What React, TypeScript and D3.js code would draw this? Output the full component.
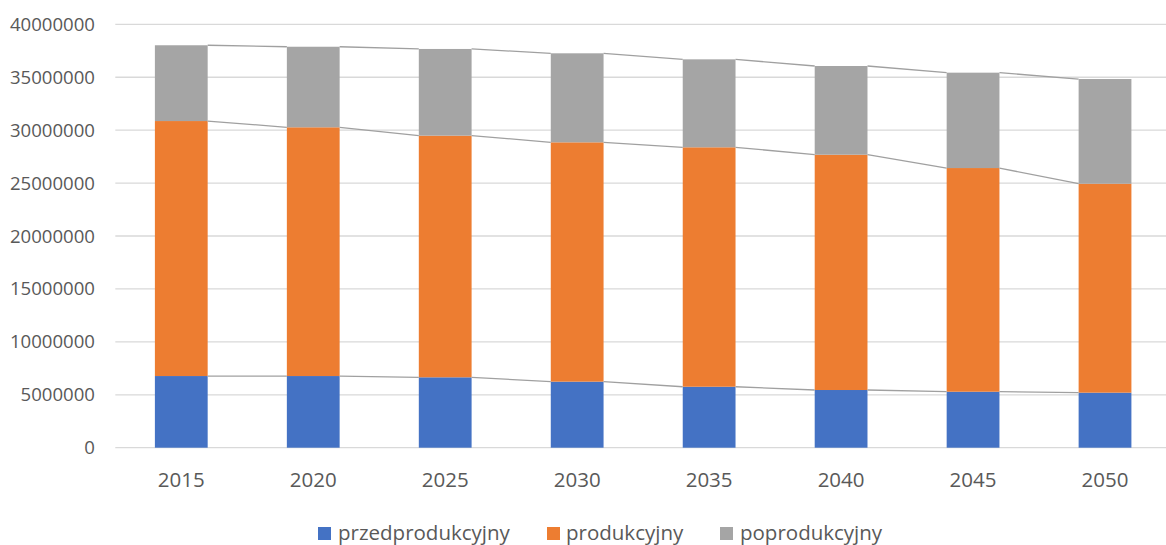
import React from "react";
import * as d3 from "d3";

const years = ["2015", "2020", "2025", "2030", "2035", "2040", "2045", "2050"];
const seriesNames = ["przedprodukcyjny", "produkcyjny", "poprodukcyjny"];
const przedprodukcyjny = [6770000, 6770000, 6650000, 6240000, 5760000, 5450000, 5290000, 5200000];
const produkcyjny = [24090000, 23500000, 22830000, 22610000, 22620000, 22230000, 21130000, 19740000];
const poprodukcyjny = [7160000, 7610000, 8190000, 8410000, 8310000, 8380000, 9010000, 9890000];
const yTicks = [0, 5000000, 10000000, 15000000, 20000000, 25000000, 30000000, 35000000, 40000000];
const colors = ["#4472C4", "#ED7D31", "#A5A5A5"];

const W = 1166;
const H = 545;
const FONT = "'Open Sans', sans-serif";
const TEXT = "#595959";

export default function App() {
  const rows = years.map((y, i) => ({
    year: y,
    przedprodukcyjny: przedprodukcyjny[i],
    produkcyjny: produkcyjny[i],
    poprodukcyjny: poprodukcyjny[i],
  }));
  const stacked = d3.stack<any>().keys(seriesNames)(rows);

  const x = d3
    .scaleBand<string>()
    .domain(years)
    .range([115.3, 1171])
    .paddingInner(0.6)
    .paddingOuter(0.3);
  const y = d3.scaleLinear().domain([0, 40000000]).range([447.7, 24.3]);
  const bw = x.bandwidth();

  const legendItems = [
    { name: seriesNames[0], sq: 318, tx: 338 },
    { name: seriesNames[1], sq: 547, tx: 566 },
    { name: seriesNames[2], sq: 720, tx: 740 },
  ];

  return (
    <svg
      width={W}
      height={H}
      style={{ position: "absolute", left: 0, top: 0, background: "#fff" }}
      fontFamily={FONT}
    >
      {/* horizontal gridlines */}
      {yTicks.map((t) => (
        <line
          key={t}
          x1={115.3}
          x2={1171}
          y1={y(t)}
          y2={y(t)}
          stroke="#d9d9d9"
          strokeWidth={1.3}
        />
      ))}
      {/* y-axis labels */}
      {yTicks.map((t) => (
        <text
          key={"l" + t}
          x={95}
          y={y(t)}
          dy="0.35em"
          textAnchor="end"
          fontSize={18.6}
          fill={TEXT}
        >
          {t}
        </text>
      ))}
      {/* stacked bars */}
      {stacked.map((s, si) => (
        <g key={s.key} fill={colors[si]}>
          {s.map((d, i) => (
            <rect
              key={i}
              x={x(years[i])}
              width={bw}
              y={y(d[1])}
              height={y(d[0]) - y(d[1])}
            />
          ))}
        </g>
      ))}
      {/* series lines between the segment tops */}
      {stacked.map((s) => (
        <g key={"sl" + s.key} stroke="#a0a0a0" strokeWidth={1.3}>
          {s.slice(0, -1).map((d, i) => (
            <line
              key={i}
              x1={(x(years[i]) as number) + bw}
              y1={y(d[1])}
              x2={x(years[i + 1]) as number}
              y2={y(s[i + 1][1])}
            />
          ))}
        </g>
      ))}
      {/* x-axis labels */}
      {years.map((yr) => (
        <text
          key={yr}
          x={(x(yr) as number) + bw / 2}
          y={480}
          dy="0.35em"
          textAnchor="middle"
          fontSize={20.5}
          fill={TEXT}
        >
          {yr}
        </text>
      ))}
      {/* legend */}
      {legendItems.map((l, i) => (
        <g key={l.name}>
          <rect x={l.sq} y={527} width={13} height={13} fill={colors[i]} />
          <text x={l.tx} y={533} dy="0.35em" fontSize={20.5} fill={TEXT}>
            {l.name}
          </text>
        </g>
      ))}
    </svg>
  );
}
